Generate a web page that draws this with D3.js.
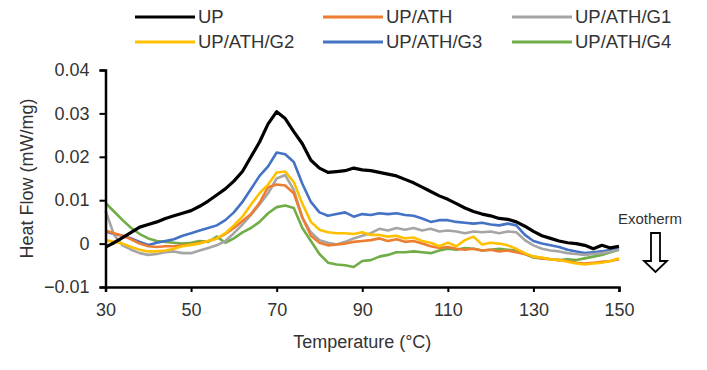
<!DOCTYPE html>
<html>
<head>
<meta charset="utf-8">
<script src="https://cdn.jsdelivr.net/npm/d3@7"></script>
<style>
  body { margin: 0; background: #fff; }
  svg { display: block; font-family: "Liberation Sans", Arial, sans-serif; }
</style>
</head>
<body>
<div id="chart"></div>
<script>
// heat flow values are in 10^-3 mW/mg
const temps = [30, 32, 34, 36, 38, 40, 42, 44, 46, 48, 50, 52, 54, 56, 58, 60, 62, 64, 66, 68,
  70, 72, 74, 76, 78, 80, 82, 84, 86, 88, 90, 92, 94, 96, 98, 100, 102, 104, 106, 108,
  110, 112, 114, 116, 118, 120, 122, 124, 126, 128, 130, 132, 134, 136, 138, 140, 142, 144, 146, 148, 150];

const up = [-0.8, 0.2, 1.4, 2.6, 3.8, 4.4, 5.0, 5.8, 6.4, 7.0,
  7.6, 8.6, 9.8, 11.2, 12.6, 14.4, 16.6, 20.0, 23.4, 27.6,
  30.4, 28.8, 25.8, 23.0, 19.2, 17.4, 16.4, 16.6, 16.8, 17.4,
  17.0, 16.8, 16.4, 16.0, 15.6, 14.8, 14.0, 13.0, 12.0, 11.0,
  10.2, 9.2, 8.2, 7.4, 6.8, 6.4, 5.8, 5.6, 5.0, 4.0,
  2.8, 1.8, 1.2, 0.6, 0.2, 0.0, -0.4, -1.2, -0.4, -1.0, -0.6];

const upAth = [3.0, 2.4, 1.8, 1.0, 0.0, -0.6, -0.8, -0.6, -0.6, -0.4,
  -0.2, 0.2, 0.6, 1.2, 2.2, 3.6, 5.2, 6.8, 9.4, 13.0,
  13.6, 13.4, 11.6, 6.0, 1.8, 0.2, -0.4, -0.2, 0.0, 0.4,
  0.6, 0.8, 1.2, 0.6, 1.0, 0.4, 0.6, 0.0, -0.6, -1.0,
  -0.8, -1.2, -1.4, -1.2, -1.6, -1.4, -1.8, -1.6, -2.0, -2.4,
  -3.0, -3.4, -3.6, -3.8, -4.0, -4.4, -4.6, -4.4, -4.2, -4.0, -3.6];

const upAthG1 = [7.6, 2.0, -0.4, -1.4, -2.2, -2.6, -2.4, -2.0, -1.8, -2.2,
  -2.2, -1.6, -1.0, -0.4, 0.6, 2.4, 4.4, 6.6, 9.0, 11.6,
  15.0, 15.8, 12.4, 6.0, 2.6, 0.8, 0.2, -0.2, 0.4, 1.2,
  1.8, 2.4, 3.4, 3.0, 3.6, 3.2, 3.6, 3.0, 3.4, 2.8,
  3.0, 2.8, 2.4, 2.8, 2.6, 2.8, 2.4, 2.8, 2.6, 0.8,
  -0.4, -1.2, -1.6, -1.8, -2.2, -2.4, -2.6, -2.4, -2.2, -1.8, -1.4];

const upAthG2 = [0.8, 0.4, 0.0, -0.8, -1.4, -1.8, -1.8, -1.6, -1.2, -0.6,
  -0.3, 0.0, 0.6, 1.2, 2.4, 4.2, 6.2, 9.0, 11.6, 13.6,
  16.4, 16.6, 14.2, 9.2, 5.0, 3.2, 2.6, 2.4, 2.4, 2.2,
  2.6, 2.0, 2.0, 1.6, 1.8, 1.2, 1.4, 0.6, 0.2, -0.6,
  0.2, -0.6, 0.8, 1.6, -0.2, 0.2, 0.0, -0.4, -1.2, -2.2,
  -3.0, -3.2, -3.6, -3.8, -4.2, -4.6, -4.8, -4.6, -4.4, -4.0, -3.4];

const upAthG3 = [2.8, 2.2, 1.8, 1.2, 0.4, -0.3, 0.2, 0.6, 1.0, 1.8,
  2.4, 3.0, 3.6, 4.2, 5.4, 7.2, 9.6, 12.6, 15.6, 17.8,
  21.0, 20.6, 18.8, 13.8, 9.6, 7.2, 6.4, 6.8, 7.2, 6.2,
  6.8, 6.6, 7.0, 6.8, 7.0, 6.6, 6.4, 5.8, 5.0, 5.4,
  5.4, 5.0, 4.8, 4.6, 4.8, 4.4, 4.2, 4.6, 4.2, 2.0,
  0.6, 0.0, -0.4, -0.8, -1.4, -1.8, -2.2, -2.0, -1.8, -1.4, -1.0];

const upAthG4 = [9.4, 7.4, 5.4, 3.6, 2.2, 1.2, 0.6, 0.4, 0.2, 0.0,
  0.2, 0.6, 0.4, 1.6, 0.2, 1.2, 2.6, 3.6, 5.0, 7.0,
  8.4, 8.8, 8.2, 3.6, 0.6, -2.4, -4.4, -4.8, -5.0, -5.4,
  -4.0, -3.8, -3.0, -2.6, -2.0, -2.0, -1.8, -2.0, -2.2, -1.6,
  -1.2, -1.4, -1.0, -1.2, -1.6, -1.4, -1.2, -1.4, -1.6, -2.4,
  -3.2, -3.4, -3.6, -3.8, -3.6, -3.8, -3.4, -3.0, -2.6, -2.0, -1.4];

const seriesNames = ['UP', 'UP/ATH', 'UP/ATH/G1', 'UP/ATH/G2', 'UP/ATH/G3', 'UP/ATH/G4'];
const seriesValues = [up, upAth, upAthG1, upAthG2, upAthG3, upAthG4];
const seriesColors = ['#000000', '#ed7d31', '#a5a5a5', '#ffc000', '#4472c4', '#70ad47'];

const xTicks = [30, 50, 70, 90, 110, 130, 150];
const yTicks = [-0.01, 0, 0.01, 0.02, 0.03, 0.04];

const width = 707, height = 370;
const margin = {top: 70, right: 88, bottom: 83, left: 105.5};
const textColor = '#333';
const fontSize = 18;

const svg = d3.select('#chart').append('svg')
  .attr('width', width)
  .attr('height', height);

const x = d3.scaleLinear().domain([30, 150]).range([margin.left, width - margin.right]);
const y = d3.scaleLinear().domain([-0.01, 0.04]).range([height - margin.bottom, margin.top]);

// lines (UP drawn last so it stays on top)
const line = d3.line()
  .x((d, i) => x(temps[i]))
  .y(d => y(d * 1e-3));

const lineOrder = [5, 4, 2, 1, 3, 0];
lineOrder.forEach(i => {
  svg.append('path')
    .datum(seriesValues[i])
    .attr('fill', 'none')
    .attr('stroke', seriesColors[i])
    .attr('stroke-width', i === 0 ? 3.2 : 2.6)
    .attr('stroke-linejoin', 'round')
    .attr('d', line);
});

// y axis
const yAxis = svg.append('g')
  .attr('transform', `translate(${margin.left},0)`)
  .call(d3.axisLeft(y).tickValues(yTicks).tickSize(6).tickPadding(10)
    .tickFormat(d => d === 0 ? '0' : d3.format('.2f')(d)));
yAxis.select('.domain').attr('stroke', '#000').attr('stroke-width', 2.5);
yAxis.selectAll('.tick line').attr('stroke', '#000').attr('stroke-width', 2);
yAxis.selectAll('.tick text')
  .attr('fill', textColor)
  .style('font-size', fontSize + 'px')
  .style('font-family', '"Liberation Sans", Arial, sans-serif');

// x axis
const xAxis = svg.append('g')
  .attr('transform', `translate(0,${height - margin.bottom})`)
  .call(d3.axisBottom(x).tickValues(xTicks).tickSize(5).tickPadding(11));
xAxis.select('.domain').attr('stroke', '#000').attr('stroke-width', 2.5);
xAxis.selectAll('.tick line').attr('stroke', '#000').attr('stroke-width', 2);
xAxis.selectAll('.tick text')
  .attr('fill', textColor)
  .style('font-size', fontSize + 'px')
  .style('font-family', '"Liberation Sans", Arial, sans-serif');

// axis titles
svg.append('text')
  .attr('x', (x.range()[0] + x.range()[1]) / 2)
  .attr('y', 348)
  .attr('text-anchor', 'middle')
  .attr('fill', textColor)
  .style('font-size', fontSize + 'px')
  .text('Temperature (°C)');

svg.append('text')
  .attr('transform', `translate(33,${(y.range()[0] + y.range()[1]) / 2}) rotate(-90)`)
  .attr('text-anchor', 'middle')
  .attr('fill', textColor)
  .style('font-size', fontSize + 'px')
  .text('Heat Flow (mW/mg)');

// legend: two rows of three
const legendX = [135, 323, 512];
const legendY = [17, 42];
seriesNames.forEach((name, i) => {
  const lx = legendX[i % 3], ly = legendY[Math.floor(i / 3)];
  svg.append('line')
    .attr('x1', lx).attr('x2', lx + 60)
    .attr('y1', ly).attr('y2', ly)
    .attr('stroke', seriesColors[i])
    .attr('stroke-width', 3);
  svg.append('text')
    .attr('x', lx + 63)
    .attr('y', ly)
    .attr('dy', '0.35em')
    .attr('fill', textColor)
    .style('font-size', '18.5px')
    .text(name);
});

// exotherm marker
svg.append('text')
  .attr('x', 650)
  .attr('y', 224)
  .attr('text-anchor', 'middle')
  .attr('fill', textColor)
  .style('font-size', '15px')
  .text('Exotherm');

const arrow = [[651, 233], [660, 233], [660, 261], [667, 261], [655.5, 272], [644, 261], [651, 261]];
svg.append('path')
  .attr('d', d3.line()(arrow) + 'Z')
  .attr('fill', '#fff')
  .attr('stroke', '#000')
  .attr('stroke-width', 1.8);
</script>
</body>
</html>
